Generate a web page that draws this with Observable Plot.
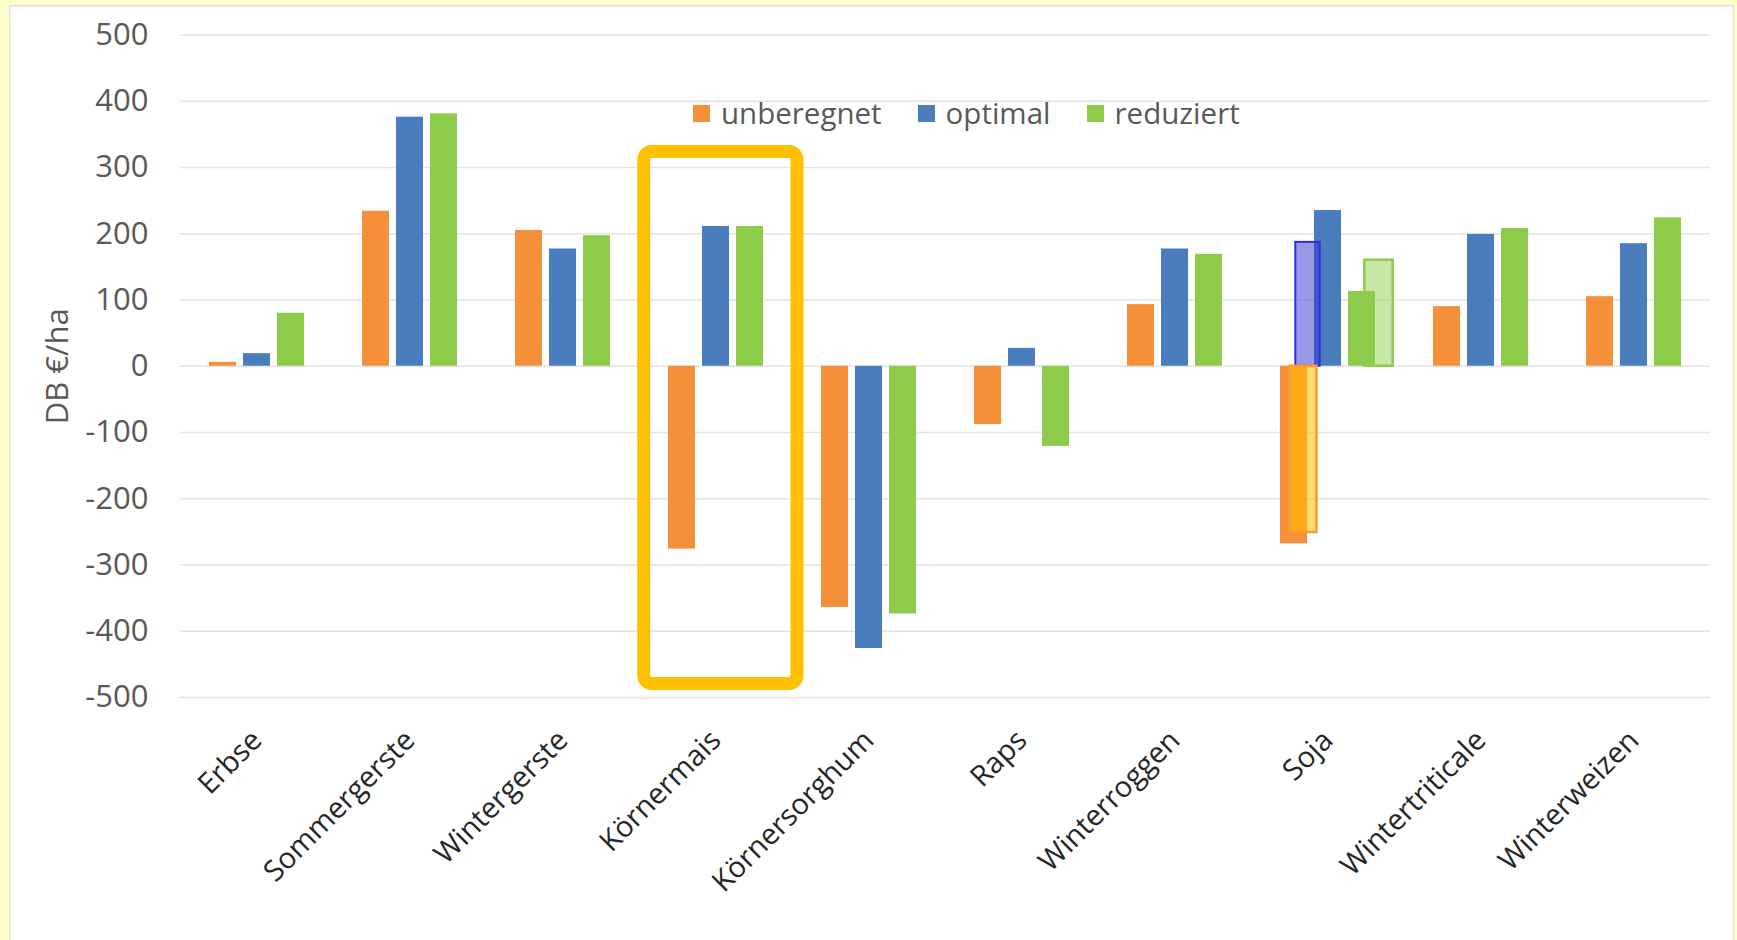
<!DOCTYPE html>
<html>
<head>
<meta charset="utf-8">
<script src="https://cdn.jsdelivr.net/npm/d3@7"></script>
<script src="https://cdn.jsdelivr.net/npm/@observablehq/plot@0.6"></script>
<style>
  html, body { margin: 0; padding: 0; }
  body {
    width: 1737px; height: 940px; position: relative; overflow: hidden;
    background: #FFFFCC; font-family: "Open Sans", sans-serif;
  }
  #panel {
    position: absolute; left: 9px; top: 5px; width: 1725px; height: 940px;
    background: #fff; box-shadow: inset 1px 1px 2px #d6d6d6, inset -1px 0 2px #d6d6d6;
  }
  #chart { position: absolute; left: 0; top: 0; }
  #legend { position: absolute; left: 693px; top: 96px; }
  #legend .lg-swatches { margin: 0; min-height: 0; height: 34px; line-height: 34px; }
  #legend .lg-swatch { margin-right: 36px; }
  #legend .lg-swatch > svg { margin-right: 11px; }
</style>
</head>
<body>
<div id="panel"></div>
<div id="chart"></div>
<div id="legend"></div>
<script>
// Deckungsbeitrag (DB €/ha) je Kultur und Bewässerungsvariante
const crops = ["Erbse", "Sommergerste", "Wintergerste", "Körnermais", "Körnersorghum",
               "Raps", "Winterroggen", "Soja", "Wintertriticale", "Winterweizen"];
const series = ["unberegnet", "optimal", "reduziert"];
const unberegnet = [6, 234, 205, -276, -364, -88, 93, -268, 90, 105];
const optimal    = [19, 376, 177, 211, -426, 27, 177, 235, 199, 185];
const reduziert  = [80, 381, 197, 211, -374, -121, 169, 113, 208, 224];
const yTicks = [-500, -400, -300, -200, -100, 0, 100, 200, 300, 400, 500];
const colors = ["#F4903A", "#4A7DBE", "#8DCC4A"];

// Soja: alternative Werte, als halbtransparente Kästen eingezeichnet
const altCrop = "Soja";
const altSeries = ["unberegnet", "optimal", "reduziert"];
const altValues = [-251, 187, 160];

// hervorgehobene Kultur und der umrahmte Wertebereich
const highlightCrop = "Körnermais";
const highlightRange = [323.5, -479.5];

const valuesBySeries = [unberegnet, optimal, reduziert];
const rows = crops.flatMap((crop, i) =>
  series.map((s, j) => ({crop, series: s, value: valuesBySeries[j][i]})));
const alt = altSeries.map((s, i) => ({crop: altCrop, series: s, value: altValues[i]}));
const highlight = [{crop: highlightCrop, top: highlightRange[0], bottom: highlightRange[1]}];

const chart = Plot.plot({
  width: 1737,
  height: 940,
  marginLeft: 177,
  marginRight: 24,
  marginTop: 34.5,
  marginBottom: 243,
  style: {background: "transparent", fontFamily: "'Open Sans', sans-serif", color: "#595959", overflow: "visible"},
  fx: {domain: crops, padding: 0, label: null},
  x: {domain: series, paddingInner: 0.2, paddingOuter: 0.83, axis: null},
  y: {domain: [-500, 500]},
  color: {domain: series, range: colors},
  marks: [
    Plot.gridY(yTicks, {stroke: "#e4e4e4", strokeOpacity: 1, strokeWidth: 1.5}),
    Plot.axisY(yTicks, {
      tickSize: 0, tickPadding: 32, fontSize: 31, tickFormat: (d) => String(d),
      label: "DB €/ha", labelArrow: "none", labelAnchor: "center", labelOffset: 135
    }),
    Plot.axisFx({
      anchor: "bottom", tickRotate: -45, tickSize: 0, tickPadding: 38,
      fontSize: 29, fill: "#262626", label: null
    }),
    // reduziert-Kasten liegt hinter den Balken
    Plot.barY(alt, {
      filter: (d) => d.series === "reduziert",
      fx: "crop", x: "series", y1: 0, y2: "value",
      fill: "#92D050", fillOpacity: 0.5, stroke: "#8DCC4A", strokeWidth: 2.5,
      dx: 17, insetLeft: -0.7, insetRight: -0.7
    }),
    Plot.barY(rows, {fx: "crop", x: "series", y1: 0, y2: "value", fill: "series"}),
    Plot.barY(alt, {
      filter: (d) => d.series === "optimal",
      fx: "crop", x: "series", y1: 0, y2: "value",
      fill: "#3333CC", fillOpacity: 0.5, stroke: "#2E2EE0", strokeWidth: 2,
      dx: -20, insetLeft: 1.3, insetRight: 1.3
    }),
    Plot.barY(alt, {
      filter: (d) => d.series === "unberegnet",
      fx: "crop", x: "series", y1: 0, y2: "value",
      fill: "#FFC000", fillOpacity: 0.55, stroke: "#FF9A30", strokeWidth: 2.5,
      dx: 9.5, insetLeft: 0, insetRight: 0
    }),
    Plot.rect(highlight, {
      fx: "crop", y1: "top", y2: "bottom",
      fill: "none", stroke: "#FFC000", strokeWidth: 13, rx: 8,
      insetLeft: 4.7, insetRight: -5
    })
  ]
});
document.getElementById("chart").append(chart);

const legend = Plot.legend({
  color: {domain: series, range: colors},
  className: "lg",
  swatchSize: 17,
  style: {fontFamily: "'Open Sans', sans-serif", fontSize: "29.5px", color: "#595959"}
});
document.getElementById("legend").append(legend);
</script>
</body>
</html>
